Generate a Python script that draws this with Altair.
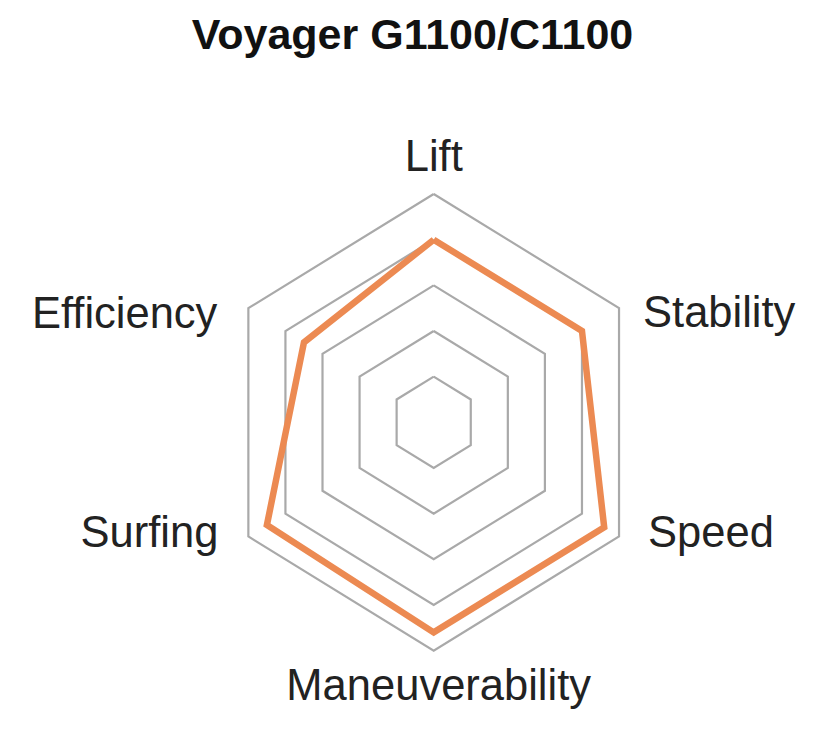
import altair as alt
import pandas as pd

# ---------------- data ----------------
chart_title = "Voyager G1100/C1100"
categories = ["Lift", "Stability", "Speed", "Maneuverability", "Surfing", "Efficiency"]
scores = [4.0, 4.0, 4.6, 4.6, 4.5, 3.5]
ring_levels = [1, 2, 3, 4, 5]

n = len(categories)
step = 360.0 / n

# polygon of scores (closed by repeating the first point)
poly = pd.DataFrame(
    [{"category": categories[k % n], "order": k, "angle": (k % n) * step, "r": scores[k % n]}
     for k in range(n + 1)]
)

# concentric hexagonal grid rings
grid = pd.DataFrame(
    [{"level": lv, "order": k, "angle": (k % n) * step, "r": lv}
     for lv in ring_levels for k in range(n + 1)]
)

# axis labels anchored at the outer ring vertices
labels = pd.DataFrame(
    {"category": categories, "angle": [i * step for i in range(n)], "r": [max(ring_levels)] * n}
)

# ---------------- scales ----------------
x_enc = alt.X("px:Q", scale=alt.Scale(domain=[-9.946, 9.189], nice=False, zero=False), axis=None)
y_enc = alt.Y("py:Q", scale=alt.Scale(domain=[-6.607, 7.059], nice=False, zero=False), axis=None)


def polar(ch):
    return ch.transform_calculate(
        px="datum.r * sin(datum.angle * PI / 180)",
        py="datum.r * cos(datum.angle * PI / 180)",
    )


rings = polar(alt.Chart(grid)).mark_line(
    color="#a9a9a9", strokeWidth=2.2, strokeJoin="miter"
).encode(x=x_enc, y=y_enc, detail="level:N", order="order:Q")

shape = polar(alt.Chart(poly)).mark_line(
    color="#EC8A52", strokeWidth=6.5, strokeJoin="miter"
).encode(x=x_enc, y=y_enc, order="order:Q")

# per-direction label placement (align, dx, dy)
placement = {
    0: ("center", 0, -36),
    60: ("left", 24, 6),
    120: ("left", 29, -2),
    180: ("center", 5, 36),
    240: ("right", -30, -2),
    300: ("right", -31, 7),
}

text_layers = []
for ang, (al, ddx, ddy) in placement.items():
    t = polar(alt.Chart(labels)).transform_filter(
        f"abs(datum.angle - {ang}) < 0.5"
    ).mark_text(
        align=al, baseline="middle", dx=ddx, dy=ddy,
        font="Liberation Sans", fontSize=43.5, color="#222222"
    ).encode(x=x_enc, y=y_enc, text="category:N")
    text_layers.append(t)

chart = alt.layer(rings, shape, *text_layers).properties(
    width=819,
    height=624,
    title=alt.TitleParams(
        chart_title, fontSize=43, font="Liberation Sans", fontWeight="bold",
        color="#111111", anchor="middle", offset=42, dx=-5,
    ),
    autosize=alt.AutoSizeParams(type="none"),
    padding={"top": 92, "left": 0, "right": 0, "bottom": 0},
).configure(
    background="white",
    view=alt.ViewConfig(strokeWidth=0, stroke="transparent"),
)

chart.save("out.html", embed_options={"renderer": "svg", "actions": False})
